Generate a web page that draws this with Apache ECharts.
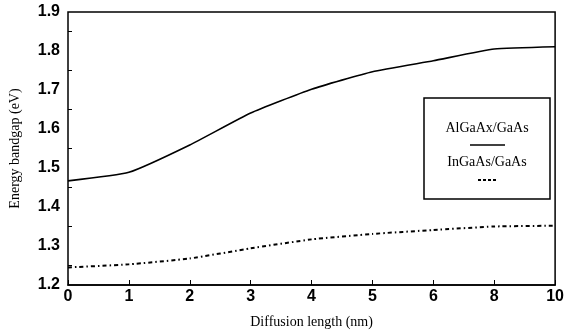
<!DOCTYPE html>
<html>
<head>
<meta charset="utf-8">
<script src="https://cdn.jsdelivr.net/npm/echarts@6/dist/echarts.min.js"></script>
<style>
  html, body { margin: 0; padding: 0; background: #fff; }
  #chart { width: 567px; height: 335px; }
</style>
</head>
<body>
<div id="chart"></div>
<script>
// x categories (the axis is evenly spaced but labelled 0..6, 8, 10)
var lengths = ['0', '1', '2', '3', '4', '5', '6', '8', '10'];
// bandgap values (eV)
var algaas = [1.467, 1.489, 1.559, 1.641, 1.702, 1.747, 1.775, 1.805, 1.811];
var ingaas = [1.245, 1.253, 1.268, 1.294, 1.317, 1.331, 1.341, 1.350, 1.352];
var names = ['AlGaAx/GaAs', 'InGaAs/GaAs'];

var chart = echarts.init(document.getElementById('chart'));

var option = {
    animation: false,
    backgroundColor: '#fff',
    grid: {
        left: 63, right: 9, top: 12, bottom: 50,
        show: true, borderColor: '#000', borderWidth: 1.5
    },
    xAxis: {
        type: 'category',
        data: lengths,
        boundaryGap: false,
        name: 'Diffusion length (nm)',
        nameLocation: 'middle',
        nameGap: 30,
        nameTextStyle: { fontFamily: 'Liberation Serif', fontSize: 14, color: '#000' },
        axisLine: { lineStyle: { color: '#000', width: 1.5 } },
        axisTick: { inside: true, length: 5, lineStyle: { color: '#000' } },
        axisLabel: { fontFamily: 'Liberation Sans', fontWeight: 'bold', fontSize: 16, color: '#000', margin: 4 },
        splitLine: { show: false }
    },
    yAxis: {
        type: 'value',
        min: 1.2, max: 1.9, interval: 0.1,
        name: 'Energy bandgap (eV)',
        nameLocation: 'middle',
        nameGap: 46,
        nameTextStyle: { fontFamily: 'Liberation Serif', fontSize: 14, color: '#000' },
        axisLine: { lineStyle: { color: '#000', width: 1.5 } },
        axisTick: { inside: true, length: 6, lineStyle: { color: '#000' } },
        minorTick: { show: true, splitNumber: 2, length: 4, lineStyle: { color: '#000' } },
        axisLabel: {
            fontFamily: 'Liberation Sans', fontWeight: 'bold', fontSize: 16, color: '#000', margin: 8,
            formatter: function (v) { return v.toFixed(1); }
        },
        splitLine: { show: false }
    },
    series: [
        {
            name: names[0], type: 'line', data: algaas, smooth: 0.15,
            showSymbol: false,
            lineStyle: { color: '#000', width: 1.6 }
        },
        {
            name: names[1], type: 'line', data: ingaas, smooth: 0.15,
            showSymbol: false,
            lineStyle: { color: '#000', width: 2, type: [4, 3, 1.5, 3] }
        }
    ],
    graphic: [
        {
            type: 'rect',
            shape: { x: 424, y: 98, width: 126, height: 101 },
            style: { fill: '#fff', stroke: '#000', lineWidth: 1.5 }
        },
        {
            type: 'text',
            style: { text: names[0], font: '14px "Liberation Serif"', fill: '#000', x: 487, y: 128, textAlign: 'center', textVerticalAlign: 'middle' }
        },
        {
            type: 'line', shape: { x1: 470, y1: 145, x2: 505, y2: 145 },
            style: { stroke: '#000', lineWidth: 1.4 }
        },
        {
            type: 'text',
            style: { text: names[1], font: '14px "Liberation Serif"', fill: '#000', x: 487, y: 162, textAlign: 'center', textVerticalAlign: 'middle' }
        },
        {
            type: 'line', shape: { x1: 478, y1: 180, x2: 498, y2: 180 },
            style: { stroke: '#000', lineWidth: 2, lineDash: [3, 2] }
        }
    ]
};

chart.setOption(option);
</script>
</body>
</html>
